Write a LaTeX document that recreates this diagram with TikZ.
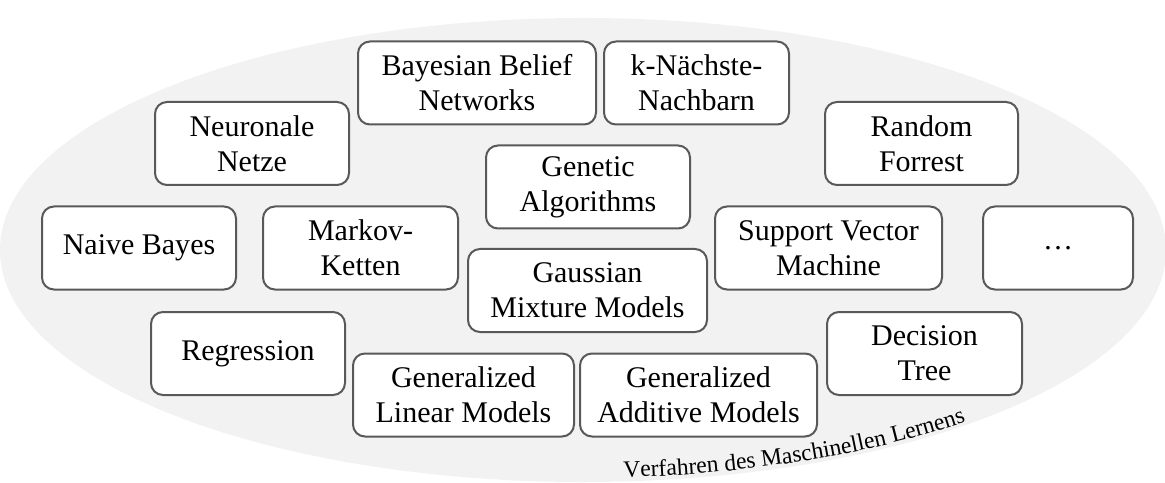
\documentclass[tikz,border=0pt]{standalone}
\usepackage{fontspec}
\setmainfont{Liberation Serif}
\usepackage{tikz}
\usetikzlibrary{decorations.text}

\definecolor{cloudgray}{HTML}{F2F2F2}
\definecolor{boxgray}{HTML}{595959}

\begin{document}
\begin{tikzpicture}[x=0.5pt, y=0.5pt,
    method/.style={draw=boxgray, fill=white, line width=1pt, rounded corners=6pt,
        align=center, minimum height=41.5pt, inner sep=0pt,
        font=\fontsize{15}{17.5}\selectfont}]
    \useasboundingbox (0, 0) rectangle (1165, 482);
    \fill[cloudgray] (583, 232) ellipse [x radius=583, y radius=232];
    \path[decorate, decoration={text along path, text align=left,
        text={|\fontsize{11.8}{14}\selectfont|Verfahren des Maschinellen Lernens}}]
        (583, 232) ++(-86:582 and 228) arc[start angle=-86, end angle=-40, x radius=582, y radius=228];

    \node[method, minimum width=119pt] (bbn) at (477, 399) {Bayesian Belief\\Networks};
    \node[method, minimum width=92.5pt] (knn) at (696.5, 399) {k-Nächste-\\Nachbarn};
    \node[method, minimum width=97pt] (nn) at (252, 338.5) {Neuronale\\Netze};
    \node[method, minimum width=96.5pt] (rf) at (921.5, 338.5) {Random\\Forrest};
    \node[method, minimum width=102pt] (ga) at (588, 295) {Genetic\\Algorithms};
    \node[method, minimum width=97pt] (nb) at (139, 234) {Naive Bayes};
    \node[method, minimum width=97.5pt] (mk) at (360.5, 234) {Markov-\\Ketten};
    \node[method, minimum width=113.5pt] (svm) at (828.5, 234) {Support Vector\\Machine};
    \node[method, minimum width=75pt] (more) at (1058, 234) {…};
    \node[method, minimum width=119.5pt] (gmm) at (587.5, 191.5) {Gaussian\\Mixture Models};
    \node[method, minimum width=97pt] (reg) at (248, 128.5) {Regression};
    \node[method, minimum width=97.5pt] (dt) at (924.5, 128.5) {Decision\\Tree};
    \node[method, minimum width=110.5pt] (glm) at (463.5, 87) {Generalized\\Linear Models};
    \node[method, minimum width=118.5pt] (gam) at (698.5, 87) {Generalized\\Additive Models};
\end{tikzpicture}
\end{document}
